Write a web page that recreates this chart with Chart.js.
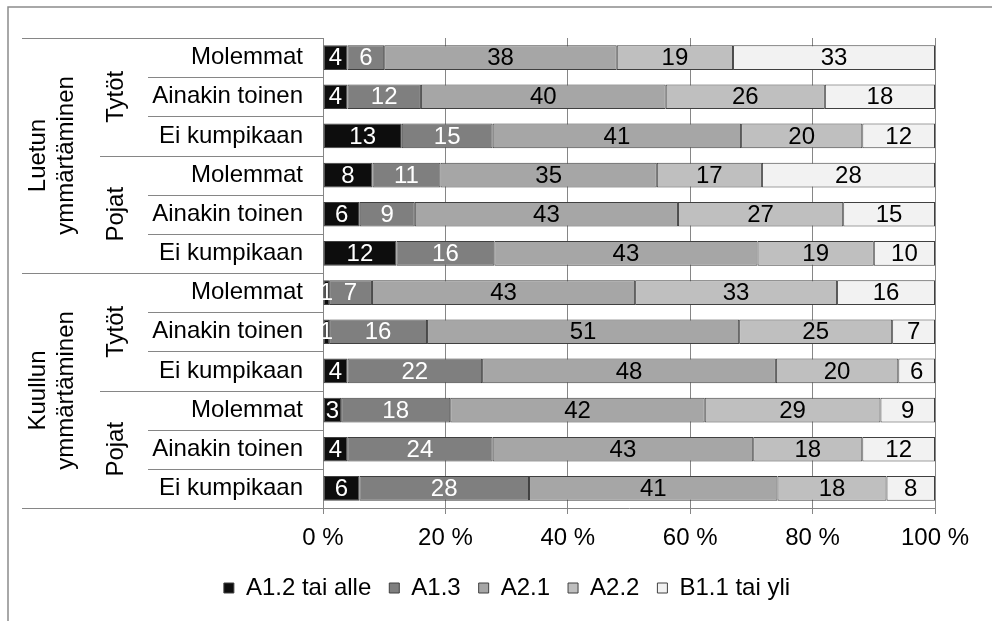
<!DOCTYPE html>
<html>
<head>
<meta charset="utf-8">
<script src="https://cdn.jsdelivr.net/npm/chart.js@4.4.1/dist/chart.umd.min.js"></script>
<style>
    html, body { margin: 0; padding: 0; background: #fff; }
    canvas { display: block; }
</style>
</head>
<body>
<canvas id="chart" width="992" height="621"></canvas>
<script>
// rows, top to bottom
const rowLabels = [
    'Molemmat', 'Ainakin toinen', 'Ei kumpikaan',
    'Molemmat', 'Ainakin toinen', 'Ei kumpikaan',
    'Molemmat', 'Ainakin toinen', 'Ei kumpikaan',
    'Molemmat', 'Ainakin toinen', 'Ei kumpikaan',
];
const groupLabels = [['Luetun', 'ymmärtäminen'], ['Kuullun', 'ymmärtäminen']];
const subgroupLabels = ['Tytöt', 'Pojat', 'Tytöt', 'Pojat'];

const seriesNames = ['A1.2 tai alle', 'A1.3', 'A2.1', 'A2.2', 'B1.1 tai yli'];
const a12 = [4, 4, 13, 8, 6, 12, 1, 1, 4, 3, 4, 6];
const a13 = [6, 12, 15, 11, 9, 16, 7, 16, 22, 18, 24, 28];
const a21 = [38, 40, 41, 35, 43, 43, 43, 51, 48, 42, 43, 41];
const a22 = [19, 26, 20, 17, 27, 19, 33, 25, 20, 29, 18, 18];
const b11 = [33, 18, 12, 28, 15, 10, 16, 7, 6, 9, 12, 8];
const xTicks = [0, 20, 40, 60, 80, 100];

const FONT = '"Liberation Sans", Arial, sans-serif';
const GRID = '#868686';
const series = [a12, a13, a21, a22, b11];
const fills = ['#0d0d0d', '#7f7f7f', '#a6a6a6', '#bfbfbf', '#f2f2f2'];
const labelColors = ['#ffffff', '#ffffff', '#000000', '#000000', '#000000'];

// 100 % stacked: normalise each row
const rowTotals = rowLabels.map((_, i) => series.reduce((s, arr) => s + arr[i], 0));

const datasets = series.map((arr, k) => ({
    label: seriesNames[k],
    data: arr.map((v, i) => v / rowTotals[i] * 100),
    raw: arr,
    backgroundColor: fills[k],
    borderColor: '#404040',
    borderWidth: 1,
    borderSkipped: false,
    barPercentage: 1,
    categoryPercentage: 0.63,
}));

// value labels inside the segments
const valueLabels = {
    id: 'valueLabels',
    afterDatasetsDraw(chart) {
        const ctx = chart.ctx;
        ctx.save();
        ctx.font = '24px ' + FONT;
        ctx.textAlign = 'center';
        ctx.textBaseline = 'middle';
        chart.data.datasets.forEach((ds, k) => {
            const meta = chart.getDatasetMeta(k);
            ctx.fillStyle = labelColors[k];
            meta.data.forEach((bar, i) => {
                const x = (bar.x + bar.base) / 2;
                ctx.fillText(String(ds.raw[i]), x, bar.y + 1);
            });
        });
        ctx.restore();
    },
};

// grouped category labels + separators on the left, and the outer frame
const groupAxis = {
    id: 'groupAxis',
    afterDraw(chart) {
        const ctx = chart.ctx;
        const area = chart.chartArea;
        const n = rowLabels.length;
        const rowH = (area.bottom - area.top) / n;
        const edge = i => area.top + i * rowH;

        ctx.save();
        ctx.strokeStyle = GRID;
        ctx.lineWidth = 1;
        for (let i = 0; i <= n; i++) {
            let x0 = 148;
            if (i % 6 === 0) x0 = 22;
            else if (i % 3 === 0) x0 = 100;
            const yy = Math.round(edge(i)) + 0.5;
            ctx.beginPath();
            ctx.moveTo(x0, yy);
            ctx.lineTo(area.left, yy);
            ctx.stroke();
        }

        // outer frame (only top/left visible)
        ctx.strokeStyle = '#8c8c8c';
        ctx.lineWidth = 1.5;
        ctx.strokeRect(8, 7, 2000, 2000);

        ctx.fillStyle = '#000';
        ctx.font = '24px ' + FONT;
        ctx.textAlign = 'center';
        ctx.textBaseline = 'alphabetic';
        const vtext = (txt, bx, cy) => {
            ctx.save();
            ctx.translate(bx, cy);
            ctx.rotate(-Math.PI / 2);
            ctx.fillText(txt, 0, 0);
            ctx.restore();
        };
        groupLabels.forEach((lines, g) => {
            const cy = (edge(g * 6) + edge(g * 6 + 6)) / 2;
            vtext(lines[0], 45, cy);
            vtext(lines[1], 73, cy);
        });
        subgroupLabels.forEach((txt, s) => {
            const cy = (edge(s * 3) + edge(s * 3 + 3)) / 2;
            vtext(txt, 123, cy);
        });
        ctx.restore();
    },
};

new Chart(document.getElementById('chart'), {
    type: 'bar',
    data: { labels: rowLabels, datasets },
    plugins: [valueLabels, groupAxis],
    options: {
        responsive: false,
        animation: false,
        indexAxis: 'y',
        layout: { padding: { left: 79, right: 57, top: 38, bottom: 11 } },
        plugins: {
            tooltip: { enabled: false },
            legend: {
                position: 'bottom',
                labels: {
                    color: '#000',
                    font: { family: FONT, size: 24 },
                    boxWidth: 10,
                    boxHeight: 10,
                    padding: 18,
                },
            },
        },
        scales: {
            x: {
                stacked: true,
                min: 0,
                max: 100,
                afterBuildTicks: s => { s.ticks = xTicks.map(v => ({ value: v })); },
                afterFit: s => { s.height = 50; },
                ticks: {
                    color: '#000',
                    font: { family: FONT, size: 24 },
                    padding: 10,
                    maxRotation: 0,
                    callback: v => v + ' %',
                },
                grid: { color: GRID, tickLength: 6 },
                border: { color: GRID },
            },
            y: {
                stacked: true,
                afterFit: s => { s.width = 244; },
                ticks: {
                    color: '#000',
                    font: { family: FONT, size: 24 },
                    padding: 20,
                },
                grid: { display: false, drawTicks: false },
                border: { display: true, color: GRID },
            },
        },
    },
});
</script>
</body>
</html>
